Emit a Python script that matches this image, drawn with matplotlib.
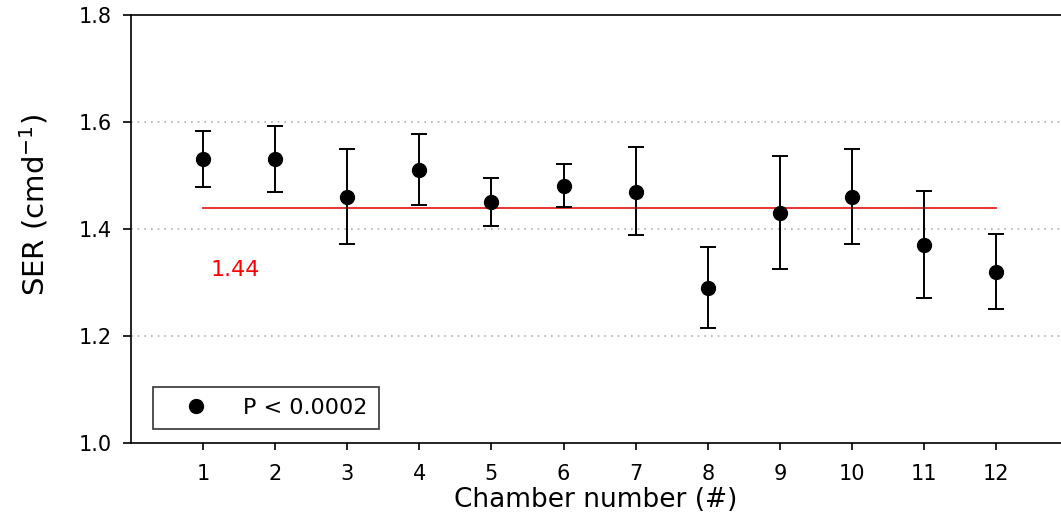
import numpy as np
import matplotlib.pyplot as plt
from matplotlib.lines import Line2D

plt.rcParams['font.family'] = ['DejaVu Sans']

# chamber numbers and SER means with error bar ends
chambers = [1, 2, 3, 4, 5, 6, 7, 8, 9, 10, 11, 12]
ser_mean = [1.53, 1.53, 1.46, 1.51, 1.45, 1.48, 1.47, 1.29, 1.43, 1.46, 1.37, 1.32]
ser_upper = [1.584, 1.592, 1.550, 1.577, 1.496, 1.521, 1.553, 1.366, 1.537, 1.550, 1.471, 1.391]
ser_lower = [1.478, 1.470, 1.372, 1.445, 1.406, 1.441, 1.389, 1.215, 1.325, 1.372, 1.271, 1.250]
overall_mean = 1.44
y_ticks = [1.0, 1.2, 1.4, 1.6, 1.8]

mean = np.array(ser_mean)
yerr = [mean - np.array(ser_lower), np.array(ser_upper) - mean]

fig = plt.figure(figsize=(10.61, 5.22), dpi=100)
ax = fig.add_axes([0.1235, 0.1513, 0.8765, 0.82])

# dotted grid lines at the inner ticks only
for g in y_ticks[1:-1]:
    ax.axhline(g, color='#b0b0b0', linestyle=(0, (1, 3)), linewidth=1.2, zorder=0)

ax.plot([chambers[0], chambers[-1]], [overall_mean, overall_mean],
        color='#e62222', linewidth=1.3, zorder=1)
ax.text(1.11, 1.323, f"{overall_mean:.2f}", color='red', fontsize=16,
        va='center', ha='left')

ax.errorbar(chambers, ser_mean, yerr=yerr, fmt='o', color='black',
            markersize=10, capsize=6, elinewidth=1.4, capthick=1.4, zorder=3)

ax.set_xlim(0, 12.9)
ax.set_ylim(1.0, 1.8)
ax.set_xticks(chambers)
ax.set_yticks(y_ticks)
ax.set_yticklabels([f"{t:.1f}" for t in y_ticks])
ax.tick_params(axis='both', direction='out', width=1.2,
               labelsize=15, colors='black')
ax.tick_params(axis='y', length=6, pad=8)
ax.tick_params(axis='x', length=5, pad=10)

ax.spines['right'].set_visible(False)
for s in ['left', 'top', 'bottom']:
    ax.spines[s].set_linewidth(1.2)

ax.set_xlabel('Chamber number (#)', fontsize=19)
ax.xaxis.set_label_coords(0.5, -0.102)
ax.set_ylabel(r'SER (cmd$^{\mathregular{-1}}$)', fontsize=21)
ax.yaxis.set_label_coords(-0.087, 0.556)

handle = Line2D([], [], linestyle='none', marker='o', color='black', markersize=10)
leg = ax.legend([handle], ['P < 0.0002'], loc='lower left',
                bbox_to_anchor=(0.0237, 0.0327), borderaxespad=0,
                fontsize=16, fancybox=False, frameon=True,
                handletextpad=0.65, borderpad=0.5, handlelength=2.9)
leg.get_frame().set_edgecolor('black')
leg.get_frame().set_linewidth(1.2)

fig.savefig('out.png', dpi=100)
